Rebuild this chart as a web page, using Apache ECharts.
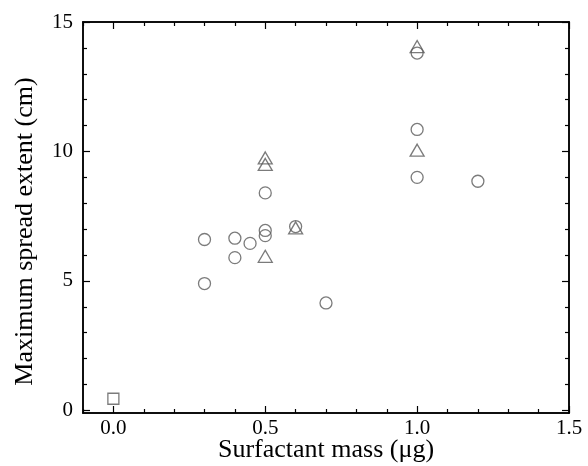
<!DOCTYPE html>
<html><head><meta charset="utf-8">
<script src="https://cdn.jsdelivr.net/npm/echarts@6/dist/echarts.min.js"></script>
<style>html,body{margin:0;padding:0;background:#fff}#c{width:588px;height:466px}</style>
</head><body><div id="c"></div>
<script>
const circleX = [0.3, 0.3, 0.4, 0.4, 0.45, 0.5, 0.5, 0.5, 0.6, 0.7, 1.0, 1.0, 1.0, 1.2];
const circleY = [6.6, 4.9, 6.65, 5.9, 6.45, 8.4, 6.95, 6.75, 7.1, 4.15, 13.8, 10.85, 9.0, 8.85];
const triX = [0.5, 0.5, 0.5, 0.6, 1.0, 1.0];
const triY = [9.75, 9.5, 5.95, 7.05, 14.05, 10.05];
const squareX = [0.0];
const squareY = [0.45];
const xMajor = [0.0, 0.5, 1.0, 1.5];
const xMinor = [-0.1, 0.1, 0.2, 0.3, 0.4, 0.6, 0.7, 0.8, 0.9, 1.1, 1.2, 1.3, 1.4];
const yMajor = [0, 5, 10, 15];
const yMinor = [1, 2, 3, 4, 6, 7, 8, 9, 11, 12, 13, 14];

const font = 'Liberation Serif';
const zip = (a, b) => a.map((v, i) => [v, b[i]]);
const line = {show: true, onZero: false, lineStyle: {color: '#000', width: 1.5}};

function xAx(pos, ticks, len, labels, name) {
  return {
    type: 'value', min: -0.1, max: 1.5, position: pos, gridIndex: 0,
    axisLine: line, splitLine: {show: false},
    axisTick: {show: true, inside: true, length: len, customValues: ticks, lineStyle: {color: '#000', width: 1.2}},
    axisLabel: labels ? {show: true, customValues: xMajor, formatter: v => v.toFixed(1), fontFamily: font, fontSize: 21, color: '#000', margin: 5} : {show: false},
    name: name || '', nameLocation: 'middle', nameGap: 24, nameMoveOverlap: false,
    nameTextStyle: {fontFamily: font, fontSize: 26, color: '#000'}
  };
}
function yAx(pos, ticks, len, labels, name) {
  return {
    type: 'value', min: -0.1, max: 15, position: pos, gridIndex: 0,
    axisLine: line, splitLine: {show: false},
    axisTick: {show: true, inside: true, length: len, customValues: ticks, lineStyle: {color: '#000', width: 1.2}},
    axisLabel: labels ? {show: true, customValues: yMajor, fontFamily: font, fontSize: 21, color: '#000', margin: 10} : {show: false},
    name: name || '', nameLocation: 'middle', nameGap: 45, nameRotate: 90,
    nameTextStyle: {fontFamily: font, fontSize: 26, color: '#000', padding: [0, 28, 0, 0]}
  };
}
const mk = {color: 'rgba(0,0,0,0)', borderColor: '#5a5a5a', borderWidth: 1.3};
const chart = echarts.init(document.getElementById('c'), null, {renderer: 'canvas'});
chart.setOption({
  animation: false,
  grid: {left: 83, right: 19, top: 22, bottom: 53, containLabel: false, outerBoundsMode: 'none'},
  xAxis: [
    xAx('bottom', xMajor, 7, true, 'Surfactant mass (\u03bcg)'),
    xAx('bottom', xMinor, 4, false),
    xAx('top', xMajor, 7, false),
    xAx('top', xMinor, 4, false)
  ],
  yAxis: [
    yAx('left', yMajor, 7, true, 'Maximum spread extent (cm)'),
    yAx('left', yMinor, 4, false),
    yAx('right', yMajor, 7, false),
    yAx('right', yMinor, 4, false)
  ],
  series: [
    {type: 'scatter', symbol: 'circle', symbolSize: 12, data: zip(circleX, circleY), itemStyle: mk},
    {type: 'scatter', symbol: 'triangle', symbolSize: [14, 12], data: zip(triX, triY), itemStyle: mk},
    {type: 'scatter', symbol: 'rect', symbolSize: 11, data: zip(squareX, squareY), itemStyle: mk}
  ]
});
</script></body></html>
